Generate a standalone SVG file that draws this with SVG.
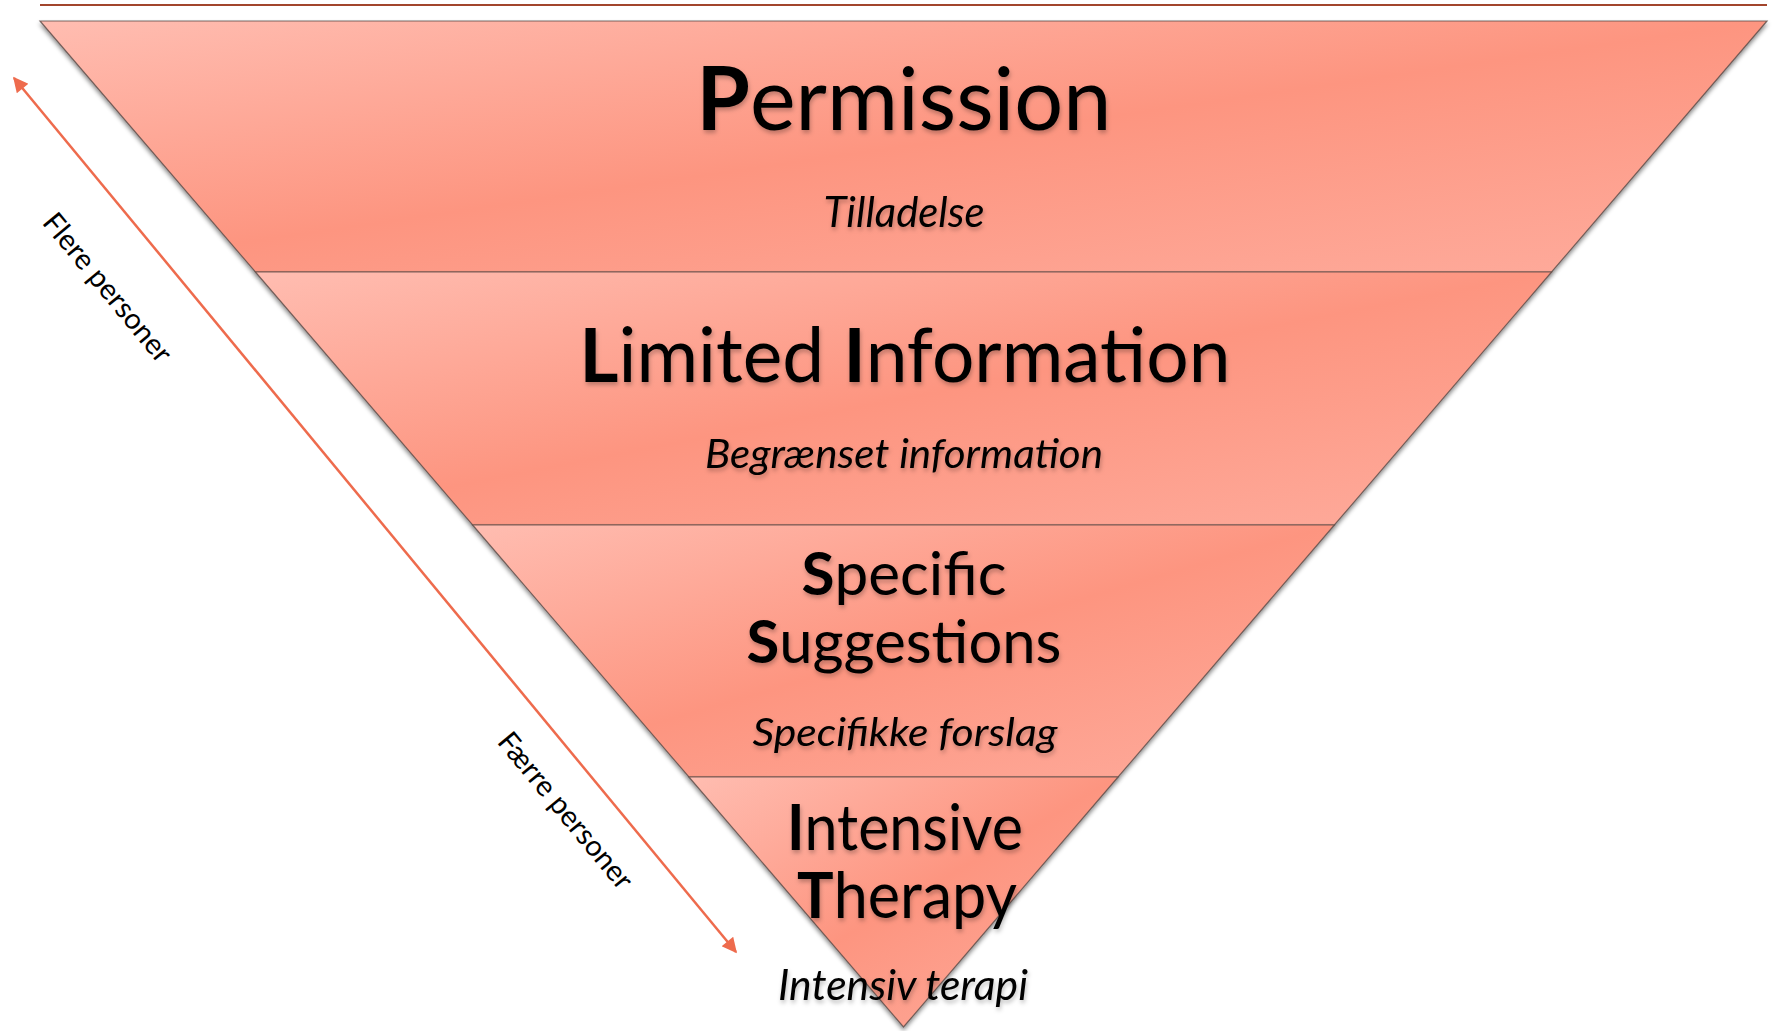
<svg xmlns="http://www.w3.org/2000/svg" width="1772" height="1031" viewBox="0 0 1772 1031">
<style>
.band{stroke:#5a4a46;stroke-width:1.2;stroke-opacity:0.8;filter:url(#shadow)}
.title{font-family:Lato,"Open Sans","Liberation Sans",sans-serif;fill:#000;text-anchor:middle;filter:url(#tshadow)}
.sub{font-family:Lato,"Open Sans","Liberation Sans",sans-serif;font-style:italic;fill:#000;text-anchor:middle;filter:url(#tshadow)}
.side{font-family:Lato,"Open Sans","Liberation Sans",sans-serif;font-size:29px;fill:#000;text-anchor:middle}
.b{font-weight:bold}
</style>
<defs>
<linearGradient id="g" x1="0" y1="0" x2="1" y2="1">
<stop offset="0" stop-color="#FFBDB1"/>
<stop offset="0.5" stop-color="#FD9580"/>
<stop offset="1" stop-color="#FEAC9D"/>
</linearGradient>
<filter id="shadow" x="-5%" y="-5%" width="110%" height="115%">
<feDropShadow dx="0" dy="3" stdDeviation="2" flood-color="#000" flood-opacity="0.45"/>
</filter>
<filter id="tshadow" x="-10%" y="-20%" width="120%" height="150%">
<feDropShadow dx="1" dy="3" stdDeviation="2" flood-color="#000" flood-opacity="0.25"/>
</filter>
<marker id="ah" viewBox="0 0 10 10" refX="9" refY="5" markerWidth="7" markerHeight="6" orient="auto-start-reverse" markerUnits="strokeWidth">
<path d="M0,0 L10,5 L0,10 z" fill="#EE6B4D"/>
</marker>
</defs>
<line x1="40" y1="5" x2="1767" y2="5" stroke="#A2452C" stroke-width="2"/>
<g id="band-permission">
<polygon class="band" fill="url(#g)" points="40,21 1767,21 1551.6,272 255.4,272"/>
<text class="title" x="904" y="130" font-size="88" textLength="415" lengthAdjust="spacingAndGlyphs"><tspan class="b">P</tspan>ermission</text>
<text class="sub" x="904" y="227" font-size="42" textLength="161" lengthAdjust="spacingAndGlyphs">Tilladelse</text>
</g>
<g id="band-limited">
<polygon class="band" fill="url(#g)" points="255.4,272 1551.6,272 1334.4,525 472.6,525"/>
<text class="title" x="905" y="382" font-size="75" textLength="651" lengthAdjust="spacingAndGlyphs"><tspan class="b">L</tspan>imited <tspan class="b">I</tspan>nformation</text>
<text class="sub" x="904" y="468" font-size="40" textLength="398" lengthAdjust="spacingAndGlyphs">Begrænset information</text>
</g>
<g id="band-specific">
<polygon class="band" fill="url(#g)" points="472.6,525 1334.4,525 1118.1,777 688.9,777"/>
<text class="title" x="904" y="595" font-size="60" textLength="205" lengthAdjust="spacingAndGlyphs"><tspan class="b">S</tspan>pecific</text>
<text class="title" x="904" y="663" font-size="60" textLength="315" lengthAdjust="spacingAndGlyphs"><tspan class="b">S</tspan>uggestions</text>
<text class="sub" x="905" y="746" font-size="39" textLength="305" lengthAdjust="spacingAndGlyphs">Specifikke forslag</text>
</g>
<g id="band-intensive">
<polygon class="band" fill="url(#g)" points="688.9,777 1118.1,777 903.5,1027"/>
<text class="title" x="905" y="850" font-size="64" textLength="236" lengthAdjust="spacingAndGlyphs"><tspan class="b">I</tspan>ntensive</text>
<text class="title" x="907" y="918" font-size="64" textLength="220" lengthAdjust="spacingAndGlyphs"><tspan class="b">T</tspan>herapy</text>
<text class="sub" x="903" y="1000" font-size="42" textLength="250" lengthAdjust="spacingAndGlyphs">Intensiv terapi</text>
</g>
<g id="connectors">
<line x1="14" y1="78" x2="736" y2="952" stroke="#EE6B4D" stroke-width="2.5" marker-start="url(#ah)" marker-end="url(#ah)"/>
</g>
<g id="labels">
<text class="side" transform="translate(100,294) rotate(50.4)">Flere personer</text>
<text class="side" transform="translate(558,817) rotate(50.4)">Færre personer</text>
</g>
</svg>
